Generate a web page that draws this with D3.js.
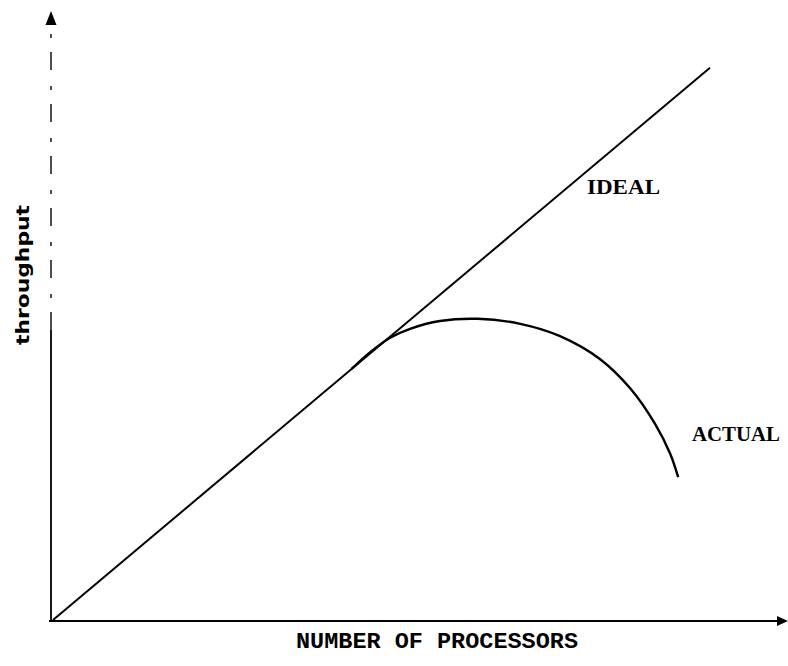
<!DOCTYPE html>
<html><head><meta charset="utf-8">
<script src="https://cdn.jsdelivr.net/npm/d3@7"></script>
<style>body{margin:0;background:#fff}svg{display:block}</style>
</head><body>
<script>
// Data (abstract units: processors vs throughput)
const idealX = [0, 99];
const idealY = [0, 99];
const actualX = [45, 47.8, 50.8, 53.8, 58.3, 64.0, 70.4, 76.4, 82.4, 87.0, 90.7, 93.0, 94.2];
const actualY = [45, 48.0, 50.6, 52.2, 53.6, 54.0, 53.1, 50.9, 46.8, 41.5, 35.2, 29.8, 25.6];
const xTitle = "NUMBER OF PROCESSORS";
const yTitle = "throughput";
const seriesLabels = ["IDEAL", "ACTUAL"];

const W = 788, H = 666;
const svg = d3.select("body").append("svg").attr("width", W).attr("height", H);
const x = d3.scaleLinear().domain([0, 110]).range([53, 783]);
const y = d3.scaleLinear().domain([0, 109]).range([620, 12]);

// axes
svg.append("line").attr("x1", 51).attr("x2", 51).attr("y1", y(0)).attr("y2", 330)
  .attr("stroke", "#000").attr("stroke-width", 1.8);
svg.append("line").attr("x1", 51).attr("x2", 51).attr("y1", 330).attr("y2", 22)
  .attr("stroke", "#000").attr("stroke-width", 1.4).attr("stroke-dasharray", "18,14,4,16");
svg.append("path").attr("d", "M51,11 L45.5,25 L56.5,25 Z").attr("fill", "#000");
svg.append("line").attr("x1", 49).attr("x2", 780).attr("y1", 621).attr("y2", 621)
  .attr("stroke", "#000").attr("stroke-width", 2.2);
svg.append("path").attr("d", "M788,621 L777,616 L777,626 Z").attr("fill", "#000");

// ideal line
const line = d3.line().x(d => x(d[0])).y(d => y(d[1]));
svg.append("path").datum(idealX.map((v, i) => [v, idealY[i]]))
  .attr("d", line).attr("fill", "none").attr("stroke", "#000").attr("stroke-width", 2);

// actual curve
const curve = d3.line().x(d => x(d[0])).y(d => y(d[1])).curve(d3.curveCatmullRom);
svg.append("path").datum(actualX.map((v, i) => [v, actualY[i]]))
  .attr("d", curve).attr("fill", "none").attr("stroke", "#000").attr("stroke-width", 2.4);

// labels
svg.append("text").text(seriesLabels[0]).attr("x", 587).attr("y", 194)
  .attr("font-family", "Liberation Serif").attr("font-weight", "bold").attr("font-size", 22)
  .attr("textLength", 73).attr("lengthAdjust", "spacingAndGlyphs");
svg.append("text").text(seriesLabels[1]).attr("x", 692).attr("y", 441)
  .attr("font-family", "Liberation Serif").attr("font-weight", "bold").attr("font-size", 22)
  .attr("textLength", 88).attr("lengthAdjust", "spacingAndGlyphs");
svg.append("text").text(xTitle).attr("x", 296).attr("y", 648)
  .attr("font-family", "Liberation Mono").attr("font-weight", "bold").attr("font-size", 22)
  .attr("textLength", 282).attr("lengthAdjust", "spacingAndGlyphs");
svg.append("text").text(yTitle)
  .attr("transform", "translate(29,275) rotate(-90)").attr("text-anchor", "middle")
  .attr("font-family", "DejaVu Sans").attr("font-weight", "bold").attr("font-size", 17)
  .attr("textLength", 140).attr("lengthAdjust", "spacingAndGlyphs");
</script>
</body></html>
